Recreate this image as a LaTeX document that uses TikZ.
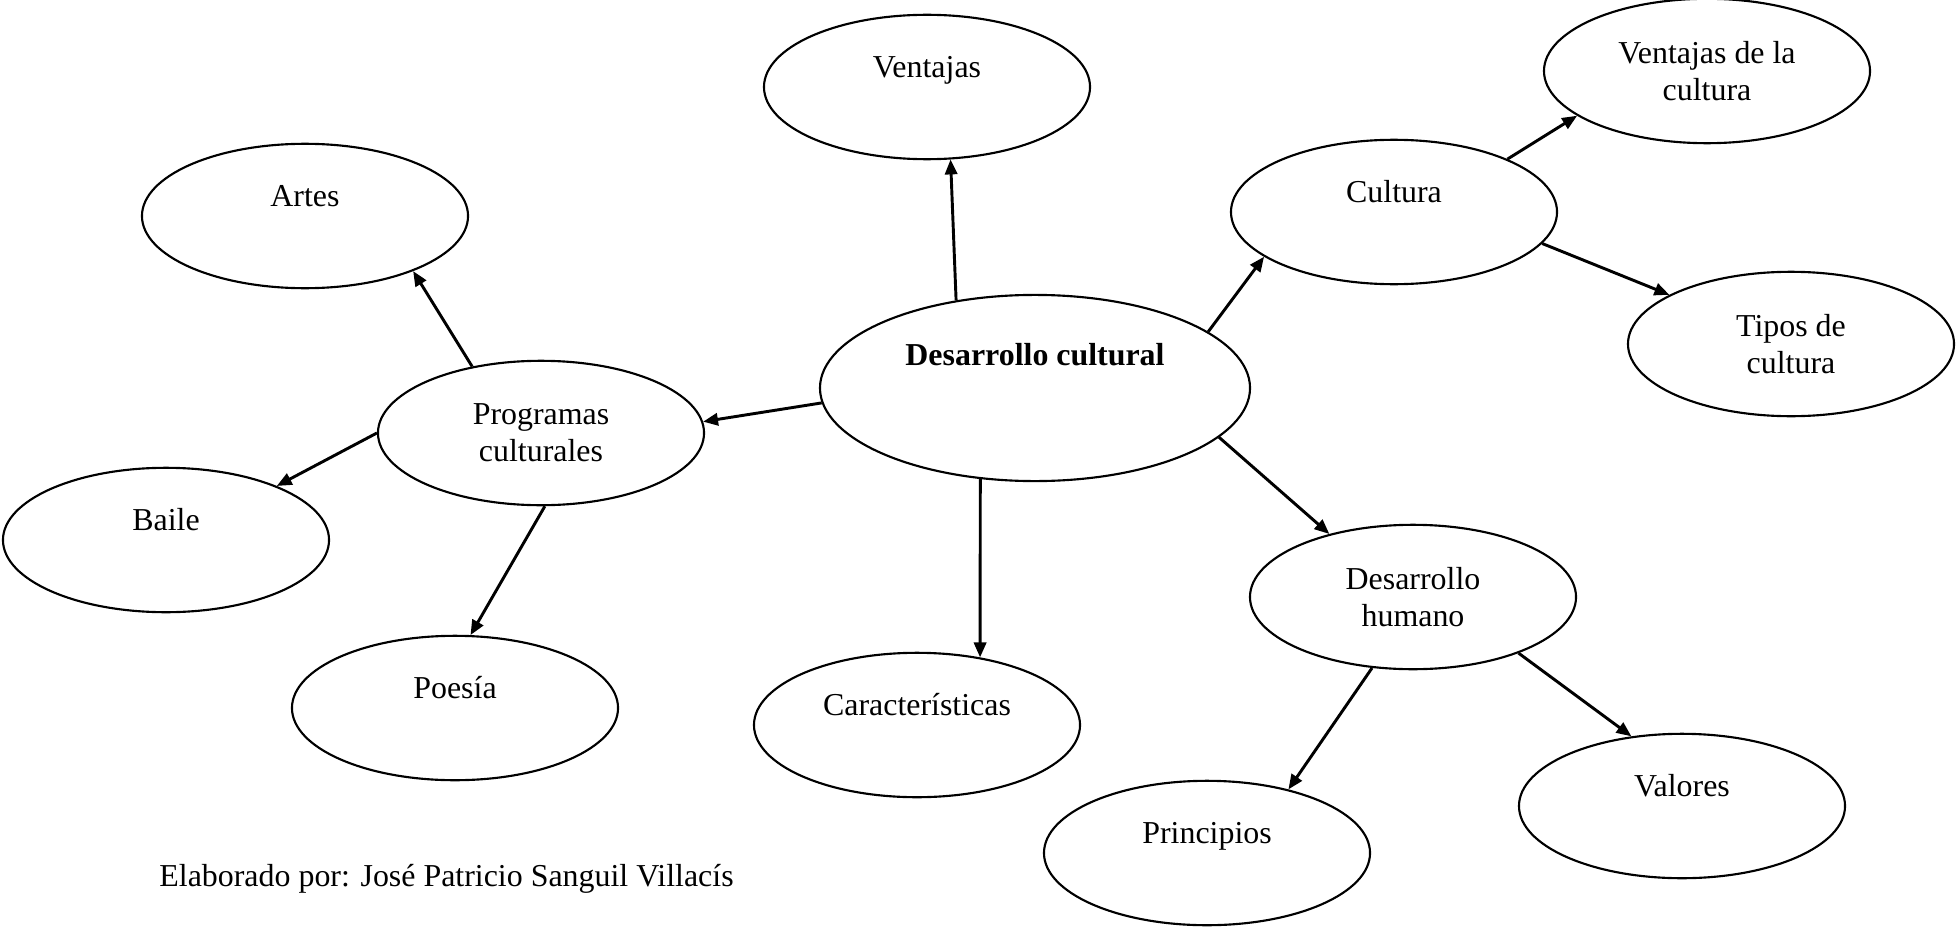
\documentclass[tikz,border=0pt]{standalone}
\usepackage{fontspec}
\setmainfont{Liberation Serif}
\usetikzlibrary{shapes.geometric,arrows.meta}

\begin{document}
\begin{tikzpicture}[x=0.376pt, y=-0.376pt,
    blob/.style={ellipse, draw, line width=0.8pt, inner sep=0pt, minimum width=122.6pt, minimum height=54.3pt, align=center, font=\fontsize{12pt}{14pt}\selectfont},
    oneline/.style={text height=8pt, text depth=15pt},
    link/.style={line width=1.1pt, -{Triangle[length=5.6pt, width=4.6pt]}}]
    \useasboundingbox (0,0) rectangle (1956,928);

    \node [blob, minimum width=161.7pt, minimum height=70pt, text height=8pt, text depth=25pt, font=\fontsize{12pt}{14pt}\selectfont\bfseries] (desarrollo) at (1035,388) {Desarrollo cultural};

    \node [blob, oneline] (ventajas) at (927,87) {Ventajas};
    \node [blob, oneline] (cultura) at (1394,212) {Cultura};
    \node [blob] (ventcult) at (1707,71) {Ventajas de la\\cultura};
    \node [blob] (tipos) at (1791,344) {Tipos de\\cultura};
    \node [blob] (humano) at (1413,597) {Desarrollo\\humano};
    \node [blob, oneline] (principios) at (1207,853) {Principios};
    \node [blob, oneline] (valores) at (1682,806) {Valores};
    \node [blob, oneline] (caract) at (917,725) {Características};
    \node [blob] (programas) at (541,433) {Programas\\culturales};
    \node [blob, oneline] (artes) at (305,216) {Artes};
    \node [blob, oneline] (baile) at (166,540) {Baile};
    \node [blob, oneline] (poesia) at (455,708) {Poesía};

    \draw [link] (desarrollo.132) -- (ventajas.-72);
    \draw [link] (desarrollo.18) -- (cultura.199);
    \draw [link] (cultura.25) -- (ventcult.199);
    \draw [link] (cultura.-12) -- (tipos.158);
    \draw [link] (desarrollo.-15) -- (humano.143);
    \draw [link] (humano.-120) -- (principios.38);
    \draw [link] (humano.-28) -- (valores.126);
    \draw [link] (desarrollo.-121) -- (caract.47);
    \draw [link] (desarrollo.184) -- (programas.4);
    \draw [link] (programas.136) -- (artes.-27);
    \draw [link] (programas.180) -- (baile.26);
    \draw [link] (programas.-87) -- (poesia.78);

    \node [anchor=west, font=\fontsize{12pt}{14pt}\selectfont] (autor) at (150,879) {Elaborado por: José Patricio Sanguil Villacís};
\end{tikzpicture}
\end{document}
